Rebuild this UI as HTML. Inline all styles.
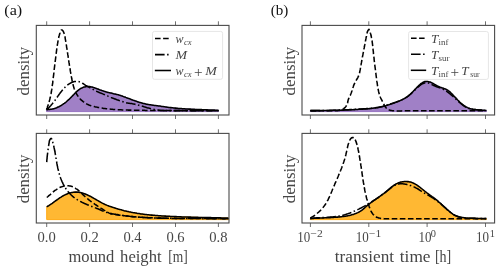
<!DOCTYPE html>
<html><head><meta charset="utf-8"><style>
html,body{margin:0;padding:0;background:#fff;}
body{width:500px;height:271px;overflow:hidden;}
svg{display:block;will-change:transform;}
text{fill:#464646;}
</style></head><body>
<svg width="500" height="271" viewBox="0 0 500 271">
<defs>
<clipPath id="cA1"><rect x="36.3" y="25.4" width="192.7" height="89.6"/></clipPath>
<clipPath id="cA2"><rect x="36.3" y="133.4" width="192.7" height="89.6"/></clipPath>
<clipPath id="cB1"><rect x="302.0" y="25.4" width="192.60000000000002" height="89.6"/></clipPath>
<clipPath id="cB2"><rect x="302.0" y="133.4" width="192.60000000000002" height="89.6"/></clipPath>
</defs>
<rect width="500" height="271" fill="#fff"/>
<path d="M46.5,109.6 47.3,109.6 48.1,109.5 49.0,109.5 49.8,109.4 50.5,109.3 51.3,109.2 52.1,109.1 52.9,108.9 53.7,108.7 54.5,108.5 55.2,108.2 56.0,108.0 56.7,107.7 57.5,107.3 58.2,107.0 58.9,106.7 59.7,106.3 60.4,105.9 61.1,105.5 61.7,105.1 62.4,104.7 63.1,104.2 63.7,103.7 64.4,103.3 65.0,102.8 65.7,102.3 66.3,101.8 66.9,101.2 67.5,100.7 68.1,100.2 68.7,99.6 69.3,99.1 69.9,98.5 70.4,98.0 71.0,97.4 71.6,96.8 72.1,96.2 72.7,95.6 73.2,95.1 73.8,94.5 74.3,93.9 74.9,93.3 75.4,92.7 76.0,92.2 76.6,91.6 77.2,91.1 77.8,90.6 78.4,90.1 79.1,89.6 79.8,89.1 80.4,88.7 81.1,88.3 81.9,88.0 82.6,87.6 83.3,87.3 84.1,87.1 84.9,86.9 85.7,86.7 86.5,86.6 87.3,86.5 88.1,86.5 88.9,86.5 89.7,86.6 90.5,86.7 91.2,86.9 92.0,87.1 92.8,87.3 93.6,87.6 94.3,87.8 95.1,88.1 95.9,88.3 96.6,88.6 97.4,88.9 98.1,89.1 98.9,89.4 99.6,89.7 100.4,90.0 101.2,90.2 101.9,90.5 102.7,90.8 103.4,91.0 104.2,91.3 105.0,91.5 105.7,91.7 106.5,92.0 107.3,92.2 108.1,92.4 108.8,92.6 109.6,92.8 110.4,93.0 111.2,93.1 112.0,93.3 112.8,93.5 113.5,93.7 114.3,93.9 115.1,94.0 115.9,94.2 116.7,94.4 117.4,94.6 118.2,94.8 119.0,95.1 119.8,95.3 120.5,95.5 121.3,95.8 122.1,96.0 122.8,96.3 123.6,96.6 124.3,96.9 125.1,97.1 125.8,97.4 126.6,97.7 127.3,98.0 128.1,98.3 128.8,98.6 129.6,98.8 130.3,99.1 131.1,99.4 131.9,99.7 132.6,100.0 133.4,100.3 134.1,100.5 134.9,100.8 135.6,101.1 136.4,101.3 137.1,101.6 137.9,101.9 138.7,102.1 139.4,102.4 140.2,102.6 141.0,102.8 141.8,103.0 142.5,103.2 143.3,103.5 144.1,103.6 144.9,103.8 145.7,104.0 146.4,104.2 147.2,104.3 148.0,104.5 148.8,104.6 149.6,104.7 150.4,104.8 151.2,105.0 152.0,105.1 152.8,105.2 153.6,105.3 154.4,105.4 155.2,105.5 156.0,105.6 156.8,105.7 157.6,105.8 158.4,105.9 159.2,106.0 160.0,106.1 160.8,106.2 161.6,106.4 162.4,106.5 163.2,106.6 164.0,106.7 164.8,106.8 165.5,106.9 166.3,107.0 167.1,107.2 167.9,107.3 168.7,107.4 169.5,107.5 170.3,107.6 171.1,107.6 171.9,107.7 172.7,107.8 173.5,107.9 174.3,108.0 175.1,108.1 175.9,108.1 176.7,108.2 177.5,108.3 178.3,108.4 179.1,108.4 179.9,108.5 180.7,108.5 181.5,108.6 182.3,108.7 183.1,108.7 183.9,108.8 184.8,108.8 185.6,108.9 186.4,108.9 187.2,109.0 188.0,109.0 188.8,109.1 189.6,109.1 190.4,109.1 191.2,109.2 192.0,109.2 192.8,109.3 193.6,109.3 194.4,109.3 195.2,109.4 196.0,109.4 196.8,109.4 197.6,109.5 198.4,109.5 199.2,109.5 200.0,109.6 200.8,109.6 201.6,109.6 202.4,109.7 203.2,109.7 204.0,109.7 204.8,109.8 205.6,109.8 206.4,109.8 207.2,109.8 208.0,109.9 208.9,109.9 209.7,109.9 210.5,110.0 211.3,110.0 212.1,110.0 212.9,110.1 213.7,110.1 214.5,110.1 215.3,110.2 216.1,110.2 216.9,110.2 217.7,110.3 218.5,110.3 218.5,111.6 46.5,111.6 Z" fill="#a080c6" stroke="#9572c0" stroke-width="1" clip-path="url(#cA1)"/>
<path d="M46.5,109.6 46.8,108.8 47.1,108.1 47.4,107.3 47.6,106.6 47.9,105.8 48.2,105.1 48.4,104.3 48.6,103.5 48.9,102.8 49.1,102.0 49.3,101.2 49.5,100.4 49.7,99.7 49.9,98.9 50.1,98.1 50.3,97.3 50.4,96.5 50.6,95.7 50.8,94.9 50.9,94.2 51.1,93.4 51.2,92.6 51.4,91.8 51.5,91.0 51.6,90.2 51.8,89.4 51.9,88.6 52.0,87.8 52.1,87.0 52.2,86.2 52.3,85.4 52.4,84.6 52.6,83.8 52.7,83.0 52.8,82.2 52.8,81.4 52.9,80.6 53.0,79.8 53.1,79.0 53.2,78.2 53.3,77.4 53.4,76.7 53.5,75.9 53.6,75.1 53.7,74.3 53.8,73.5 53.9,72.7 53.9,71.9 54.0,71.1 54.1,70.3 54.2,69.5 54.3,68.7 54.4,67.9 54.5,67.1 54.6,66.3 54.7,65.5 54.8,64.7 54.9,63.9 55.0,63.1 55.1,62.3 55.2,61.5 55.3,60.7 55.4,59.9 55.5,59.1 55.6,58.3 55.7,57.5 55.8,56.7 55.9,55.9 56.0,55.1 56.1,54.3 56.2,53.5 56.3,52.7 56.4,51.9 56.5,51.1 56.6,50.3 56.7,49.5 56.8,48.7 56.9,47.9 57.1,47.1 57.2,46.3 57.3,45.5 57.4,44.7 57.5,44.0 57.7,43.2 57.8,42.4 57.9,41.6 58.1,40.8 58.2,40.0 58.3,39.2 58.5,38.4 58.7,37.6 58.9,36.8 59.0,36.1 59.3,35.3 59.5,34.5 59.7,33.7 60.0,33.0 60.2,32.2 60.5,31.5 60.9,30.7 61.3,30.1 62.1,30.0 62.7,30.5 63.1,31.2 63.5,31.9 63.8,32.6 64.1,33.4 64.4,34.1 64.6,34.9 64.8,35.7 64.9,36.5 65.1,37.3 65.2,38.1 65.3,38.8 65.4,39.6 65.6,40.4 65.7,41.2 65.8,42.0 66.0,42.8 66.1,43.6 66.2,44.4 66.4,45.2 66.5,46.0 66.6,46.8 66.7,47.6 66.9,48.4 67.0,49.2 67.1,50.0 67.2,50.8 67.4,51.5 67.5,52.3 67.6,53.1 67.7,53.9 67.8,54.7 68.0,55.5 68.1,56.3 68.2,57.1 68.3,57.9 68.4,58.7 68.6,59.5 68.7,60.3 68.8,61.1 68.9,61.9 69.0,62.7 69.2,63.5 69.3,64.3 69.4,65.1 69.5,65.9 69.7,66.6 69.8,67.4 69.9,68.2 70.1,69.0 70.2,69.8 70.3,70.6 70.4,71.4 70.6,72.2 70.7,73.0 70.8,73.8 71.0,74.6 71.1,75.4 71.3,76.2 71.4,76.9 71.6,77.7 71.7,78.5 71.9,79.3 72.0,80.1 72.2,80.9 72.3,81.7 72.5,82.5 72.7,83.3 72.9,84.0 73.1,84.8 73.3,85.6 73.5,86.4 73.7,87.1 74.0,87.9 74.2,88.7 74.5,89.4 74.8,90.2 75.1,90.9 75.4,91.6 75.8,92.4 76.1,93.1 76.5,93.8 76.9,94.5 77.3,95.2 77.8,95.9 78.2,96.5 78.7,97.2 79.2,97.8 79.7,98.4 80.2,99.0 80.8,99.6 81.4,100.2 82.0,100.7 82.6,101.2 83.2,101.7 83.9,102.2 84.5,102.7 85.2,103.1 85.9,103.5 86.6,103.9 87.3,104.3 88.0,104.6 88.8,104.9 89.5,105.2 90.3,105.4 91.1,105.7 91.8,105.9 92.6,106.1 93.4,106.3 94.2,106.5 94.9,106.7 95.7,106.9 96.5,107.1 97.3,107.2 98.1,107.4 98.9,107.6 99.7,107.7 100.5,107.8 101.2,108.0 102.0,108.1 102.8,108.2 103.6,108.4 104.4,108.5 105.2,108.6 106.0,108.7 106.8,108.8 107.6,108.9 108.4,109.0 109.2,109.0 110.0,109.1 110.8,109.2 111.6,109.3 112.4,109.3 113.2,109.4 114.0,109.4 114.8,109.5 115.6,109.6 116.4,109.6 117.2,109.7 118.0,109.7 118.8,109.7 119.6,109.8 120.4,109.8 121.2,109.8 122.0,109.9 122.9,109.9 123.7,109.9 124.5,109.9 125.3,110.0 126.1,110.0 126.9,110.0 127.7,110.0 128.5,110.1 129.3,110.1 130.1,110.1 130.9,110.1 131.7,110.1 132.5,110.1 133.3,110.2 134.1,110.2 134.9,110.2 135.7,110.2 136.5,110.2 137.3,110.2 138.1,110.2 138.9,110.3 139.7,110.3 140.5,110.3 141.3,110.3 142.1,110.3 142.9,110.3 143.7,110.3 144.6,110.3 145.4,110.4 146.2,110.4 147.0,110.4 147.8,110.4 148.6,110.4 149.4,110.4 150.2,110.4 151.0,110.4 151.8,110.4 152.6,110.4 153.4,110.4 154.2,110.4 155.0,110.4 155.8,110.5 156.6,110.5 157.4,110.5 158.2,110.5 159.0,110.5 159.8,110.5 160.6,110.5 161.4,110.5 162.2,110.5 163.0,110.5 163.8,110.5 164.6,110.5 165.5,110.5 166.3,110.5 167.1,110.5 167.9,110.5 168.7,110.5 169.5,110.5 170.3,110.5 171.1,110.5 171.9,110.5 172.7,110.5 173.5,110.5 174.3,110.5 175.1,110.6 175.9,110.6 176.7,110.6 177.5,110.6 178.3,110.6 179.1,110.6 179.9,110.6 180.7,110.6 181.5,110.6 182.3,110.6 183.1,110.6 183.9,110.6 184.7,110.6 185.6,110.6 186.4,110.6 187.2,110.6 188.0,110.6 188.8,110.6 189.6,110.6 190.4,110.6 191.2,110.6 192.0,110.6 192.8,110.6 193.6,110.6 194.4,110.6 195.2,110.6 196.0,110.6 196.8,110.6 197.6,110.6 198.4,110.6 199.2,110.6 200.0,110.6 200.8,110.6 201.6,110.6 202.4,110.6 203.2,110.6 204.0,110.6 204.8,110.6 205.6,110.6 206.5,110.6 207.3,110.6 208.1,110.6 208.9,110.7 209.7,110.7 210.5,110.7 211.3,110.7 212.1,110.7 212.9,110.7 213.7,110.7 214.5,110.7 215.3,110.7 216.1,110.7 216.9,110.7 217.7,110.7 218.5,110.7" fill="none" stroke="#000" stroke-width="1.55" stroke-dasharray="5.6 2.5" clip-path="url(#cA1)"/>
<path d="M46.6,109.6 47.3,109.1 47.9,108.6 48.5,108.1 49.0,107.5 49.6,106.9 50.1,106.3 50.7,105.7 51.2,105.1 51.7,104.5 52.2,103.9 52.7,103.2 53.2,102.6 53.7,102.0 54.2,101.3 54.7,100.7 55.2,100.0 55.6,99.4 56.1,98.7 56.6,98.1 57.0,97.4 57.5,96.8 57.9,96.1 58.4,95.4 58.9,94.8 59.3,94.1 59.8,93.5 60.3,92.8 60.8,92.2 61.3,91.6 61.8,90.9 62.3,90.3 62.8,89.7 63.3,89.1 63.8,88.5 64.4,87.9 65.0,87.3 65.5,86.8 66.1,86.2 66.7,85.7 67.4,85.2 68.0,84.7 68.7,84.2 69.3,83.8 70.0,83.4 70.7,83.0 71.5,82.6 72.2,82.3 73.0,82.0 73.7,81.8 74.5,81.6 75.3,81.5 76.1,81.4 76.9,81.4 77.7,81.4 78.5,81.6 79.3,81.8 80.0,82.0 80.8,82.4 81.5,82.7 82.2,83.1 82.9,83.5 83.6,83.9 84.2,84.4 84.9,84.8 85.6,85.3 86.3,85.7 87.0,86.1 87.7,86.5 88.4,86.9 89.1,87.3 89.8,87.7 90.5,88.1 91.2,88.5 91.9,88.8 92.6,89.2 93.3,89.6 94.0,90.0 94.7,90.4 95.4,90.8 96.1,91.1 96.9,91.4 97.6,91.8 98.3,92.1 99.1,92.4 99.8,92.7 100.6,93.0 101.3,93.3 102.1,93.6 102.8,93.9 103.6,94.2 104.3,94.5 105.1,94.8 105.8,95.1 106.5,95.4 107.3,95.7 108.0,96.1 108.7,96.4 109.5,96.7 110.2,97.0 111.0,97.4 111.7,97.7 112.4,98.0 113.2,98.3 113.9,98.6 114.7,98.9 115.4,99.1 116.2,99.4 117.0,99.7 117.7,99.9 118.5,100.2 119.2,100.5 120.0,100.7 120.7,101.0 121.5,101.3 122.3,101.6 123.0,101.8 123.8,102.1 124.5,102.3 125.3,102.5 126.1,102.7 126.9,102.9 127.7,103.0 128.5,103.2 129.3,103.3 130.1,103.4 130.9,103.5 131.7,103.6 132.5,103.8 133.2,103.9 134.0,104.1 134.8,104.3 135.6,104.4 136.4,104.6 137.2,104.8 137.9,105.0 138.7,105.2 139.5,105.4 140.3,105.6 141.0,105.9 141.8,106.1 142.6,106.3 143.4,106.5 144.1,106.8 144.9,107.0 145.7,107.2 146.4,107.4 147.2,107.7 148.0,107.9 148.8,108.1 149.5,108.3 150.3,108.5 151.1,108.7 151.9,108.9 152.7,109.1 153.5,109.3 154.2,109.4 155.0,109.6 155.8,109.7 156.6,109.9 157.4,110.0 158.2,110.1 159.0,110.2 159.8,110.3 160.6,110.4 161.4,110.4 162.2,110.5 163.0,110.5 163.8,110.6 164.6,110.6 165.4,110.6 166.2,110.6 167.0,110.6 167.8,110.6 168.6,110.6 169.4,110.6 170.2,110.6 171.0,110.6 171.9,110.6 172.7,110.6 173.5,110.6 174.3,110.6 175.1,110.6 175.9,110.6 176.7,110.5 177.5,110.5 178.3,110.5 179.1,110.5 179.9,110.6 180.7,110.6 181.5,110.6 182.3,110.6 183.1,110.6 183.9,110.6 184.7,110.6 185.5,110.6 186.3,110.7 187.1,110.7 187.9,110.7 188.7,110.7 189.5,110.7 190.3,110.7 191.2,110.7 192.0,110.7 192.8,110.7 193.6,110.7 194.4,110.7 195.2,110.7 196.0,110.7 196.8,110.7 197.6,110.7 198.4,110.7 199.2,110.7 200.0,110.7 200.8,110.7 201.6,110.7 202.4,110.7 203.2,110.7 204.0,110.7 204.8,110.7 205.6,110.7 206.4,110.7 207.2,110.7 208.0,110.7 208.8,110.7 209.7,110.7 210.5,110.7 211.3,110.7 212.1,110.7 212.9,110.7 213.7,110.7 214.5,110.7 215.3,110.7 216.1,110.7 216.9,110.7 217.7,110.7 218.5,110.7" fill="none" stroke="#000" stroke-width="1.55" stroke-dasharray="9.6 2.5 1.5 2.5" clip-path="url(#cA1)"/>
<path d="M46.5,109.6 47.3,109.6 48.1,109.5 49.0,109.5 49.8,109.4 50.5,109.3 51.3,109.2 52.1,109.1 52.9,108.9 53.7,108.7 54.5,108.5 55.2,108.2 56.0,108.0 56.7,107.7 57.5,107.3 58.2,107.0 58.9,106.7 59.7,106.3 60.4,105.9 61.1,105.5 61.7,105.1 62.4,104.7 63.1,104.2 63.7,103.7 64.4,103.3 65.0,102.8 65.7,102.3 66.3,101.8 66.9,101.2 67.5,100.7 68.1,100.2 68.7,99.6 69.3,99.1 69.9,98.5 70.4,98.0 71.0,97.4 71.6,96.8 72.1,96.2 72.7,95.6 73.2,95.1 73.8,94.5 74.3,93.9 74.9,93.3 75.4,92.7 76.0,92.2 76.6,91.6 77.2,91.1 77.8,90.6 78.4,90.1 79.1,89.6 79.8,89.1 80.4,88.7 81.1,88.3 81.9,88.0 82.6,87.6 83.3,87.3 84.1,87.1 84.9,86.9 85.7,86.7 86.5,86.6 87.3,86.5 88.1,86.5 88.9,86.5 89.7,86.6 90.5,86.7 91.2,86.9 92.0,87.1 92.8,87.3 93.6,87.6 94.3,87.8 95.1,88.1 95.9,88.3 96.6,88.6 97.4,88.9 98.1,89.1 98.9,89.4 99.6,89.7 100.4,90.0 101.2,90.2 101.9,90.5 102.7,90.8 103.4,91.0 104.2,91.3 105.0,91.5 105.7,91.7 106.5,92.0 107.3,92.2 108.1,92.4 108.8,92.6 109.6,92.8 110.4,93.0 111.2,93.1 112.0,93.3 112.8,93.5 113.5,93.7 114.3,93.9 115.1,94.0 115.9,94.2 116.7,94.4 117.4,94.6 118.2,94.8 119.0,95.1 119.8,95.3 120.5,95.5 121.3,95.8 122.1,96.0 122.8,96.3 123.6,96.6 124.3,96.9 125.1,97.1 125.8,97.4 126.6,97.7 127.3,98.0 128.1,98.3 128.8,98.6 129.6,98.8 130.3,99.1 131.1,99.4 131.9,99.7 132.6,100.0 133.4,100.3 134.1,100.5 134.9,100.8 135.6,101.1 136.4,101.3 137.1,101.6 137.9,101.9 138.7,102.1 139.4,102.4 140.2,102.6 141.0,102.8 141.8,103.0 142.5,103.2 143.3,103.5 144.1,103.6 144.9,103.8 145.7,104.0 146.4,104.2 147.2,104.3 148.0,104.5 148.8,104.6 149.6,104.7 150.4,104.8 151.2,105.0 152.0,105.1 152.8,105.2 153.6,105.3 154.4,105.4 155.2,105.5 156.0,105.6 156.8,105.7 157.6,105.8 158.4,105.9 159.2,106.0 160.0,106.1 160.8,106.2 161.6,106.4 162.4,106.5 163.2,106.6 164.0,106.7 164.8,106.8 165.5,106.9 166.3,107.0 167.1,107.2 167.9,107.3 168.7,107.4 169.5,107.5 170.3,107.6 171.1,107.6 171.9,107.7 172.7,107.8 173.5,107.9 174.3,108.0 175.1,108.1 175.9,108.1 176.7,108.2 177.5,108.3 178.3,108.4 179.1,108.4 179.9,108.5 180.7,108.5 181.5,108.6 182.3,108.7 183.1,108.7 183.9,108.8 184.8,108.8 185.6,108.9 186.4,108.9 187.2,109.0 188.0,109.0 188.8,109.1 189.6,109.1 190.4,109.1 191.2,109.2 192.0,109.2 192.8,109.3 193.6,109.3 194.4,109.3 195.2,109.4 196.0,109.4 196.8,109.4 197.6,109.5 198.4,109.5 199.2,109.5 200.0,109.6 200.8,109.6 201.6,109.6 202.4,109.7 203.2,109.7 204.0,109.7 204.8,109.8 205.6,109.8 206.4,109.8 207.2,109.8 208.0,109.9 208.9,109.9 209.7,109.9 210.5,110.0 211.3,110.0 212.1,110.0 212.9,110.1 213.7,110.1 214.5,110.1 215.3,110.2 216.1,110.2 216.9,110.2 217.7,110.3 218.5,110.3" fill="none" stroke="#000" stroke-width="1.55" clip-path="url(#cA1)"/>
<path d="M46.7,206.8 47.4,206.4 48.1,206.0 48.8,205.6 49.5,205.1 50.2,204.7 50.8,204.2 51.5,203.8 52.2,203.3 52.8,202.8 53.5,202.4 54.1,201.9 54.8,201.4 55.4,200.9 56.1,200.5 56.7,200.0 57.4,199.5 58.0,199.1 58.7,198.6 59.4,198.1 60.0,197.7 60.7,197.3 61.4,196.8 62.1,196.4 62.8,196.0 63.5,195.6 64.2,195.2 64.9,194.9 65.6,194.5 66.4,194.2 67.1,193.9 67.9,193.6 68.6,193.3 69.4,193.1 70.2,192.9 70.9,192.7 71.7,192.5 72.5,192.4 73.3,192.2 74.1,192.2 74.9,192.1 75.7,192.1 76.5,192.1 77.3,192.1 78.1,192.2 78.9,192.3 79.7,192.4 80.5,192.6 81.3,192.8 82.1,193.0 82.9,193.2 83.6,193.4 84.4,193.7 85.2,194.0 85.9,194.3 86.6,194.6 87.4,194.9 88.1,195.3 88.8,195.6 89.6,196.0 90.3,196.3 91.0,196.7 91.7,197.1 92.4,197.5 93.1,197.9 93.8,198.3 94.5,198.7 95.2,199.1 95.9,199.5 96.6,199.9 97.3,200.3 98.0,200.7 98.7,201.1 99.4,201.5 100.1,201.9 100.8,202.3 101.5,202.7 102.2,203.1 102.9,203.4 103.6,203.8 104.4,204.1 105.1,204.5 105.8,204.8 106.6,205.1 107.3,205.4 108.1,205.7 108.8,206.0 109.6,206.3 110.3,206.5 111.1,206.8 111.9,207.1 112.6,207.3 113.4,207.6 114.2,207.8 114.9,208.0 115.7,208.3 116.5,208.5 117.2,208.7 118.0,209.0 118.8,209.2 119.6,209.4 120.3,209.6 121.1,209.8 121.9,210.1 122.7,210.3 123.5,210.5 124.2,210.7 125.0,210.9 125.8,211.0 126.6,211.2 127.4,211.4 128.2,211.6 128.9,211.8 129.7,211.9 130.5,212.1 131.3,212.3 132.1,212.4 132.9,212.6 133.7,212.7 134.5,212.8 135.3,213.0 136.1,213.1 136.9,213.3 137.7,213.4 138.4,213.5 139.2,213.6 140.0,213.7 140.8,213.9 141.6,214.0 142.4,214.1 143.2,214.2 144.0,214.3 144.8,214.4 145.6,214.5 146.4,214.6 147.2,214.7 148.0,214.7 148.8,214.8 149.6,214.9 150.4,215.0 151.2,215.1 152.0,215.1 152.8,215.2 153.6,215.3 154.4,215.3 155.3,215.4 156.1,215.5 156.9,215.5 157.7,215.6 158.5,215.7 159.3,215.7 160.1,215.8 160.9,215.8 161.7,215.9 162.5,215.9 163.3,216.0 164.1,216.0 164.9,216.1 165.7,216.1 166.5,216.2 167.3,216.2 168.1,216.2 168.9,216.3 169.7,216.3 170.5,216.4 171.3,216.4 172.1,216.4 172.9,216.5 173.7,216.5 174.6,216.6 175.4,216.6 176.2,216.6 177.0,216.7 177.8,216.7 178.6,216.7 179.4,216.8 180.2,216.8 181.0,216.8 181.8,216.9 182.6,216.9 183.4,216.9 184.2,216.9 185.0,217.0 185.8,217.0 186.6,217.0 187.4,217.0 188.2,217.1 189.0,217.1 189.8,217.1 190.7,217.1 191.5,217.2 192.3,217.2 193.1,217.2 193.9,217.2 194.7,217.3 195.5,217.3 196.3,217.3 197.1,217.3 197.9,217.3 198.7,217.4 199.5,217.4 200.3,217.4 201.1,217.4 201.9,217.4 202.7,217.5 203.5,217.5 204.3,217.5 205.1,217.5 206.0,217.5 206.8,217.6 207.6,217.6 208.4,217.6 209.2,217.6 210.0,217.6 210.8,217.6 211.6,217.7 212.4,217.7 213.2,217.7 214.0,217.7 214.8,217.7 215.6,217.7 216.4,217.8 217.2,217.8 218.0,217.8 218.8,217.8 219.6,217.8 220.4,217.8 221.3,217.9 222.1,217.9 222.9,217.9 223.7,217.9 224.5,217.9 225.3,217.9 226.1,217.9 226.9,218.0 227.7,218.0 228.5,218.0 228.5,219.6 46.7,219.6 Z" fill="#ffb833" stroke="#ffa914" stroke-width="1" clip-path="url(#cA2)"/>
<path d="M46.8,197.5 47.4,197.0 48.0,196.5 48.6,195.9 49.2,195.4 49.9,194.9 50.5,194.4 51.1,193.8 51.7,193.3 52.3,192.8 52.9,192.2 53.5,191.7 54.1,191.2 54.7,190.7 55.4,190.2 56.0,189.8 56.7,189.3 57.4,188.9 58.1,188.4 58.8,188.1 59.5,187.7 60.2,187.3 61.0,187.0 61.7,186.8 62.5,186.5 63.3,186.3 64.0,186.1 64.8,186.0 65.6,185.9 66.4,185.8 67.2,185.8 68.0,185.8 68.8,185.8 69.6,185.9 70.4,186.1 71.2,186.3 72.0,186.5 72.7,186.8 73.4,187.1 74.2,187.5 74.9,187.9 75.5,188.3 76.2,188.8 76.9,189.2 77.5,189.7 78.1,190.2 78.7,190.7 79.4,191.3 80.0,191.8 80.5,192.3 81.1,192.9 81.7,193.4 82.3,194.0 82.9,194.6 83.5,195.1 84.1,195.7 84.6,196.2 85.2,196.7 85.8,197.3 86.4,197.8 87.1,198.3 87.7,198.8 88.3,199.4 88.9,199.9 89.5,200.4 90.2,200.9 90.8,201.3 91.5,201.8 92.1,202.3 92.8,202.8 93.4,203.2 94.1,203.7 94.7,204.2 95.4,204.6 96.1,205.0 96.8,205.5 97.4,205.9 98.1,206.4 98.8,206.8 99.5,207.2 100.1,207.6 100.8,208.1 101.5,208.5 102.2,208.9 102.9,209.3 103.6,209.8 104.2,210.2 104.9,210.6 105.6,211.0 106.3,211.5 107.0,211.9 107.7,212.3 108.4,212.7 109.1,213.1 109.8,213.4 110.6,213.7 111.3,213.9 112.1,214.1 112.9,214.2 113.7,214.4 114.5,214.5 115.3,214.6 116.1,214.7 116.9,214.8 117.7,214.9 118.5,215.1 119.3,215.2 120.1,215.3 120.9,215.4 121.7,215.5 122.5,215.6 123.3,215.6 124.1,215.7 124.9,215.8 125.7,215.9 126.5,216.0 127.3,216.1 128.1,216.2 128.9,216.2 129.7,216.3 130.5,216.4 131.3,216.5 132.1,216.6 132.9,216.6 133.7,216.7 134.5,216.8 135.3,216.8 136.1,216.9 136.9,217.0 137.7,217.0 138.5,217.1 139.3,217.1 140.1,217.2 140.9,217.2 141.7,217.3 142.5,217.3 143.3,217.4 144.1,217.4 144.9,217.5 145.7,217.5 146.5,217.6 147.3,217.6 148.1,217.7 148.9,217.7 149.7,217.7 150.5,217.8 151.3,217.8 152.1,217.8 152.9,217.9 153.7,217.9 154.5,217.9 155.3,218.0 156.1,218.0 156.9,218.0 157.7,218.1 158.5,218.1 159.4,218.1 160.2,218.1 161.0,218.1 161.8,218.2 162.6,218.2 163.4,218.2 164.2,218.2 165.0,218.2 165.8,218.3 166.6,218.3 167.4,218.3 168.2,218.3 169.0,218.3 169.8,218.3 170.6,218.3 171.4,218.4 172.2,218.4 173.0,218.4 173.8,218.4 174.6,218.4 175.4,218.4 176.2,218.4 177.0,218.4 177.8,218.4 178.6,218.4 179.4,218.4 180.3,218.4 181.1,218.4 181.9,218.5 182.7,218.5 183.5,218.5 184.3,218.5 185.1,218.5 185.9,218.5 186.7,218.5 187.5,218.5 188.3,218.5 189.1,218.5 189.9,218.5 190.7,218.5 191.5,218.5 192.3,218.5 193.1,218.5 193.9,218.5 194.7,218.5 195.5,218.5 196.3,218.5 197.1,218.5 197.9,218.5 198.7,218.5 199.5,218.5 200.4,218.5 201.2,218.5 202.0,218.5 202.8,218.5 203.6,218.5 204.4,218.5 205.2,218.5 206.0,218.5 206.8,218.5 207.6,218.5 208.4,218.5 209.2,218.5 210.0,218.5 210.8,218.5 211.6,218.5 212.4,218.5 213.2,218.5 214.0,218.6 214.8,218.6 215.6,218.6 216.4,218.6 217.2,218.6 218.0,218.6 218.8,218.6 219.6,218.6 220.5,218.6 221.3,218.6 222.1,218.7 222.9,218.7 223.7,218.7 224.5,218.7 225.3,218.7 226.1,218.7 226.9,218.8 227.7,218.8 228.5,218.8" fill="none" stroke="#000" stroke-width="1.55" stroke-dasharray="5.6 2.5" clip-path="url(#cA2)"/>
<path d="M46.7,162.1 46.8,161.3 46.8,160.5 46.9,159.7 47.0,158.9 47.1,158.1 47.1,157.3 47.2,156.5 47.3,155.7 47.4,154.9 47.5,154.1 47.6,153.3 47.7,152.5 47.8,151.7 47.9,150.9 48.0,150.1 48.1,149.3 48.2,148.5 48.3,147.7 48.4,146.9 48.5,146.1 48.7,145.4 48.8,144.6 48.9,143.8 49.1,143.0 49.2,142.2 49.3,141.4 49.5,140.6 49.8,139.9 50.2,139.2 50.8,138.6 51.5,138.6 51.8,139.4 52.1,140.1 52.3,140.9 52.6,141.7 52.8,142.4 53.0,143.2 53.2,144.0 53.4,144.8 53.6,145.5 53.8,146.3 54.0,147.1 54.1,147.9 54.3,148.7 54.5,149.5 54.6,150.3 54.8,151.0 54.9,151.8 55.1,152.6 55.2,153.4 55.3,154.2 55.5,155.0 55.6,155.8 55.7,156.6 55.9,157.4 56.0,158.2 56.1,159.0 56.2,159.8 56.4,160.6 56.5,161.3 56.7,162.1 56.8,162.9 56.9,163.7 57.1,164.5 57.2,165.3 57.4,166.1 57.6,166.9 57.7,167.7 57.9,168.5 58.1,169.2 58.3,170.0 58.4,170.8 58.6,171.6 58.9,172.4 59.1,173.1 59.3,173.9 59.5,174.7 59.8,175.4 60.0,176.2 60.3,177.0 60.5,177.7 60.8,178.5 61.1,179.2 61.4,180.0 61.7,180.7 62.0,181.5 62.3,182.2 62.7,182.9 63.0,183.6 63.4,184.4 63.8,185.1 64.2,185.8 64.6,186.5 65.0,187.2 65.4,187.8 65.8,188.5 66.3,189.2 66.8,189.8 67.2,190.5 67.7,191.1 68.2,191.8 68.7,192.4 69.3,193.0 69.8,193.6 70.4,194.2 70.9,194.7 71.5,195.3 72.1,195.8 72.7,196.4 73.3,196.9 73.9,197.4 74.6,197.9 75.2,198.3 75.9,198.8 76.6,199.2 77.2,199.7 77.9,200.1 78.6,200.5 79.3,200.9 80.0,201.3 80.7,201.6 81.5,202.0 82.2,202.4 82.9,202.7 83.6,203.1 84.4,203.4 85.1,203.7 85.8,204.0 86.6,204.3 87.3,204.7 88.1,205.0 88.8,205.3 89.5,205.6 90.3,205.9 91.0,206.2 91.8,206.5 92.5,206.8 93.3,207.1 94.0,207.3 94.8,207.6 95.5,207.9 96.3,208.2 97.0,208.5 97.8,208.8 98.5,209.1 99.3,209.4 100.0,209.7 100.7,210.1 101.5,210.4 102.2,210.7 103.0,211.0 103.7,211.3 104.5,211.6 105.2,211.8 106.0,212.1 106.7,212.4 107.5,212.6 108.3,212.9 109.0,213.1 109.8,213.3 110.6,213.5 111.4,213.6 112.2,213.8 113.0,213.9 113.8,214.0 114.6,214.2 115.4,214.3 116.1,214.4 116.9,214.5 117.7,214.6 118.5,214.8 119.3,214.9 120.1,215.0 120.9,215.1 121.7,215.2 122.5,215.4 123.3,215.5 124.1,215.6 124.9,215.7 125.7,215.8 126.5,215.9 127.3,216.0 128.1,216.1 128.9,216.2 129.7,216.3 130.5,216.4 131.3,216.5 132.1,216.6 132.9,216.7 133.7,216.7 134.5,216.8 135.3,216.9 136.1,216.9 136.9,217.0 137.7,217.1 138.5,217.1 139.3,217.2 140.1,217.2 140.9,217.3 141.7,217.3 142.5,217.4 143.3,217.4 144.1,217.5 144.9,217.5 145.7,217.6 146.5,217.6 147.3,217.6 148.1,217.7 148.9,217.7 149.7,217.7 150.5,217.8 151.3,217.8 152.1,217.8 152.9,217.9 153.7,217.9 154.5,217.9 155.3,217.9 156.2,218.0 157.0,218.0 157.8,218.0 158.6,218.0 159.4,218.0 160.2,218.1 161.0,218.1 161.8,218.1 162.6,218.1 163.4,218.1 164.2,218.2 165.0,218.2 165.8,218.2 166.6,218.2 167.4,218.2 168.2,218.2 169.0,218.3 169.8,218.3 170.6,218.3 171.4,218.3 172.2,218.3 173.0,218.3 173.8,218.3 174.6,218.3 175.4,218.4 176.2,218.4 177.0,218.4 177.9,218.4 178.7,218.4 179.5,218.4 180.3,218.4 181.1,218.4 181.9,218.4 182.7,218.4 183.5,218.4 184.3,218.4 185.1,218.5 185.9,218.5 186.7,218.5 187.5,218.5 188.3,218.5 189.1,218.5 189.9,218.5 190.7,218.5 191.5,218.5 192.3,218.5 193.1,218.5 193.9,218.5 194.7,218.5 195.5,218.5 196.3,218.5 197.1,218.5 198.0,218.5 198.8,218.5 199.6,218.5 200.4,218.5 201.2,218.5 202.0,218.6 202.8,218.6 203.6,218.6 204.4,218.6 205.2,218.6 206.0,218.6 206.8,218.6 207.6,218.6 208.4,218.6 209.2,218.6 210.0,218.6 210.8,218.6 211.6,218.6 212.4,218.6 213.2,218.6 214.0,218.6 214.8,218.6 215.6,218.6 216.4,218.6 217.2,218.6 218.0,218.6 218.9,218.6 219.7,218.6 220.5,218.6 221.3,218.7 222.1,218.7 222.9,218.7 223.7,218.7 224.5,218.7 225.3,218.7 226.1,218.7 226.9,218.7 227.7,218.7 228.5,218.7" fill="none" stroke="#000" stroke-width="1.55" stroke-dasharray="9.6 2.5 1.5 2.5" clip-path="url(#cA2)"/>
<path d="M46.7,206.8 47.4,206.4 48.1,206.0 48.8,205.6 49.5,205.1 50.2,204.7 50.8,204.2 51.5,203.8 52.2,203.3 52.8,202.8 53.5,202.4 54.1,201.9 54.8,201.4 55.4,200.9 56.1,200.5 56.7,200.0 57.4,199.5 58.0,199.1 58.7,198.6 59.4,198.1 60.0,197.7 60.7,197.3 61.4,196.8 62.1,196.4 62.8,196.0 63.5,195.6 64.2,195.2 64.9,194.9 65.6,194.5 66.4,194.2 67.1,193.9 67.9,193.6 68.6,193.3 69.4,193.1 70.2,192.9 70.9,192.7 71.7,192.5 72.5,192.4 73.3,192.2 74.1,192.2 74.9,192.1 75.7,192.1 76.5,192.1 77.3,192.1 78.1,192.2 78.9,192.3 79.7,192.4 80.5,192.6 81.3,192.8 82.1,193.0 82.9,193.2 83.6,193.4 84.4,193.7 85.2,194.0 85.9,194.3 86.6,194.6 87.4,194.9 88.1,195.3 88.8,195.6 89.6,196.0 90.3,196.3 91.0,196.7 91.7,197.1 92.4,197.5 93.1,197.9 93.8,198.3 94.5,198.7 95.2,199.1 95.9,199.5 96.6,199.9 97.3,200.3 98.0,200.7 98.7,201.1 99.4,201.5 100.1,201.9 100.8,202.3 101.5,202.7 102.2,203.1 102.9,203.4 103.6,203.8 104.4,204.1 105.1,204.5 105.8,204.8 106.6,205.1 107.3,205.4 108.1,205.7 108.8,206.0 109.6,206.3 110.3,206.5 111.1,206.8 111.9,207.1 112.6,207.3 113.4,207.6 114.2,207.8 114.9,208.0 115.7,208.3 116.5,208.5 117.2,208.7 118.0,209.0 118.8,209.2 119.6,209.4 120.3,209.6 121.1,209.8 121.9,210.1 122.7,210.3 123.5,210.5 124.2,210.7 125.0,210.9 125.8,211.0 126.6,211.2 127.4,211.4 128.2,211.6 128.9,211.8 129.7,211.9 130.5,212.1 131.3,212.3 132.1,212.4 132.9,212.6 133.7,212.7 134.5,212.8 135.3,213.0 136.1,213.1 136.9,213.3 137.7,213.4 138.4,213.5 139.2,213.6 140.0,213.7 140.8,213.9 141.6,214.0 142.4,214.1 143.2,214.2 144.0,214.3 144.8,214.4 145.6,214.5 146.4,214.6 147.2,214.7 148.0,214.7 148.8,214.8 149.6,214.9 150.4,215.0 151.2,215.1 152.0,215.1 152.8,215.2 153.6,215.3 154.4,215.3 155.3,215.4 156.1,215.5 156.9,215.5 157.7,215.6 158.5,215.7 159.3,215.7 160.1,215.8 160.9,215.8 161.7,215.9 162.5,215.9 163.3,216.0 164.1,216.0 164.9,216.1 165.7,216.1 166.5,216.2 167.3,216.2 168.1,216.2 168.9,216.3 169.7,216.3 170.5,216.4 171.3,216.4 172.1,216.4 172.9,216.5 173.7,216.5 174.6,216.6 175.4,216.6 176.2,216.6 177.0,216.7 177.8,216.7 178.6,216.7 179.4,216.8 180.2,216.8 181.0,216.8 181.8,216.9 182.6,216.9 183.4,216.9 184.2,216.9 185.0,217.0 185.8,217.0 186.6,217.0 187.4,217.0 188.2,217.1 189.0,217.1 189.8,217.1 190.7,217.1 191.5,217.2 192.3,217.2 193.1,217.2 193.9,217.2 194.7,217.3 195.5,217.3 196.3,217.3 197.1,217.3 197.9,217.3 198.7,217.4 199.5,217.4 200.3,217.4 201.1,217.4 201.9,217.4 202.7,217.5 203.5,217.5 204.3,217.5 205.1,217.5 206.0,217.5 206.8,217.6 207.6,217.6 208.4,217.6 209.2,217.6 210.0,217.6 210.8,217.6 211.6,217.7 212.4,217.7 213.2,217.7 214.0,217.7 214.8,217.7 215.6,217.7 216.4,217.8 217.2,217.8 218.0,217.8 218.8,217.8 219.6,217.8 220.4,217.8 221.3,217.9 222.1,217.9 222.9,217.9 223.7,217.9 224.5,217.9 225.3,217.9 226.1,217.9 226.9,218.0 227.7,218.0 228.5,218.0" fill="none" stroke="#000" stroke-width="1.55" clip-path="url(#cA2)"/>
<path d="M310.4,110.6 311.2,110.6 312.0,110.6 312.8,110.6 313.6,110.6 314.4,110.6 315.2,110.6 316.0,110.6 316.8,110.6 317.6,110.6 318.4,110.6 319.2,110.6 320.0,110.6 320.9,110.5 321.7,110.5 322.5,110.5 323.3,110.5 324.1,110.5 324.9,110.5 325.7,110.5 326.5,110.5 327.3,110.5 328.1,110.5 328.9,110.4 329.7,110.4 330.5,110.4 331.3,110.4 332.1,110.4 332.9,110.4 333.7,110.3 334.5,110.3 335.3,110.3 336.1,110.3 336.9,110.3 337.7,110.2 338.5,110.2 339.3,110.2 340.2,110.2 341.0,110.2 341.8,110.1 342.6,110.1 343.4,110.1 344.2,110.0 345.0,110.0 345.8,110.0 346.6,109.9 347.4,109.9 348.2,109.9 349.0,109.8 349.8,109.8 350.6,109.8 351.4,109.7 352.2,109.7 353.0,109.7 353.8,109.6 354.6,109.6 355.4,109.5 356.2,109.5 357.0,109.4 357.8,109.4 358.6,109.3 359.4,109.3 360.2,109.3 361.0,109.2 361.8,109.1 362.6,109.1 363.5,109.0 364.3,109.0 365.1,108.9 365.9,108.9 366.7,108.8 367.5,108.8 368.3,108.7 369.1,108.6 369.9,108.6 370.7,108.5 371.5,108.4 372.3,108.3 373.1,108.2 373.9,108.1 374.7,108.0 375.5,107.9 376.3,107.8 377.1,107.7 377.8,107.5 378.6,107.4 379.4,107.2 380.2,107.1 381.0,106.9 381.8,106.7 382.6,106.5 383.3,106.3 384.1,106.1 384.9,105.9 385.7,105.7 386.4,105.5 387.2,105.2 388.0,105.0 388.7,104.8 389.5,104.5 390.3,104.3 391.0,104.0 391.8,103.7 392.6,103.5 393.3,103.2 394.1,102.9 394.8,102.7 395.6,102.4 396.3,102.1 397.1,101.8 397.9,101.6 398.6,101.3 399.3,101.0 400.1,100.6 400.8,100.3 401.5,100.0 402.3,99.6 403.0,99.3 403.7,98.9 404.4,98.5 405.1,98.1 405.8,97.7 406.4,97.2 407.1,96.8 407.8,96.3 408.4,95.8 409.0,95.3 409.6,94.8 410.2,94.2 410.8,93.7 411.4,93.1 412.0,92.6 412.6,92.0 413.1,91.4 413.7,90.8 414.2,90.3 414.8,89.7 415.3,89.1 415.9,88.5 416.4,87.9 417.0,87.3 417.5,86.8 418.1,86.2 418.7,85.6 419.3,85.1 419.9,84.6 420.5,84.0 421.1,83.5 421.8,83.1 422.5,82.6 423.2,82.2 423.9,81.9 424.7,81.6 425.4,81.5 426.2,81.4 427.0,81.4 427.8,81.5 428.6,81.7 429.4,81.9 430.2,82.1 430.9,82.4 431.7,82.8 432.4,83.1 433.1,83.5 433.8,83.9 434.5,84.3 435.2,84.7 435.9,85.1 436.6,85.5 437.3,85.9 438.0,86.2 438.7,86.6 439.5,86.9 440.2,87.2 441.0,87.5 441.7,87.8 442.5,88.0 443.3,88.2 444.0,88.5 444.8,88.8 445.5,89.0 446.3,89.4 447.0,89.8 447.6,90.2 448.3,90.7 448.9,91.1 449.6,91.7 450.2,92.2 450.8,92.7 451.3,93.3 451.9,93.9 452.5,94.4 453.0,95.0 453.6,95.6 454.1,96.2 454.7,96.8 455.2,97.4 455.8,97.9 456.3,98.5 456.9,99.1 457.4,99.7 458.0,100.3 458.6,100.8 459.1,101.4 459.7,102.0 460.3,102.5 460.9,103.1 461.5,103.6 462.1,104.1 462.7,104.6 463.4,105.1 464.0,105.6 464.7,106.0 465.4,106.5 466.1,106.9 466.8,107.2 467.5,107.6 468.2,107.9 469.0,108.2 469.7,108.5 470.5,108.7 471.3,108.9 472.1,109.1 472.9,109.3 473.7,109.4 474.5,109.5 475.3,109.6 476.1,109.7 476.9,109.8 477.7,109.8 478.5,109.9 479.3,109.9 480.1,110.0 480.9,110.1 481.7,110.1 482.5,110.2 483.3,110.2 484.1,110.3 484.9,110.4 485.7,110.5 486.5,110.6 486.5,111.6 310.4,111.6 Z" fill="#a080c6" stroke="#9572c0" stroke-width="1" clip-path="url(#cB1)"/>
<path d="M310.4,110.8 311.2,110.8 312.0,110.8 312.8,110.8 313.6,110.8 314.4,110.8 315.2,110.8 316.0,110.8 316.8,110.8 317.6,110.8 318.4,110.8 319.2,110.8 320.0,110.8 320.8,110.8 321.6,110.8 322.4,110.8 323.2,110.8 324.0,110.8 324.8,110.8 325.6,110.8 326.4,110.8 327.2,110.8 328.0,110.8 328.8,110.8 329.6,110.8 330.5,110.8 331.3,110.8 332.1,110.7 332.9,110.7 333.7,110.7 334.5,110.7 335.3,110.7 336.1,110.7 336.9,110.6 337.7,110.6 338.5,110.5 339.3,110.4 340.1,110.2 340.8,110.0 341.6,109.8 342.3,109.5 343.0,109.1 343.7,108.7 344.3,108.2 344.9,107.6 345.5,107.0 346.0,106.4 346.4,105.7 346.8,105.0 347.1,104.3 347.4,103.5 347.6,102.8 347.8,102.0 347.9,101.2 348.1,100.4 348.3,99.6 348.6,98.9 348.9,98.1 349.2,97.4 349.5,96.7 349.9,96.0 350.3,95.3 350.6,94.5 350.9,93.8 351.2,93.0 351.5,92.3 351.7,91.5 352.0,90.8 352.2,90.0 352.5,89.2 352.7,88.5 352.9,87.7 353.2,86.9 353.4,86.2 353.7,85.4 354.0,84.7 354.4,84.0 354.7,83.2 355.1,82.5 355.5,81.8 355.9,81.1 356.2,80.4 356.6,79.7 357.0,79.0 357.4,78.3 357.8,77.6 358.1,76.9 358.5,76.2 358.8,75.4 359.0,74.6 359.3,73.9 359.5,73.1 359.7,72.3 359.8,71.5 360.0,70.8 360.1,70.0 360.3,69.2 360.4,68.4 360.5,67.6 360.7,66.8 360.8,66.0 360.9,65.2 361.1,64.4 361.2,63.6 361.4,62.9 361.5,62.1 361.7,61.3 361.8,60.5 361.9,59.7 362.1,58.9 362.2,58.1 362.4,57.3 362.5,56.5 362.7,55.8 362.8,55.0 363.0,54.2 363.1,53.4 363.3,52.6 363.4,51.8 363.6,51.0 363.7,50.2 363.9,49.4 364.0,48.7 364.2,47.9 364.3,47.1 364.5,46.3 364.6,45.5 364.8,44.7 364.9,43.9 365.1,43.1 365.2,42.4 365.4,41.6 365.5,40.8 365.7,40.0 365.8,39.2 366.0,38.4 366.1,37.6 366.3,36.8 366.5,36.1 366.6,35.3 366.8,34.5 366.9,33.7 367.1,32.9 367.3,32.1 367.6,31.4 367.9,30.6 368.3,30.0 368.9,29.5 369.4,30.2 369.7,30.9 370.0,31.7 370.2,32.4 370.4,33.2 370.7,34.0 370.9,34.7 371.0,35.5 371.2,36.3 371.4,37.1 371.5,37.9 371.7,38.7 371.8,39.5 371.9,40.3 372.1,41.0 372.2,41.8 372.3,42.6 372.4,43.4 372.5,44.2 372.6,45.0 372.7,45.8 372.8,46.6 372.8,47.4 372.9,48.2 373.0,49.0 373.1,49.8 373.2,50.6 373.3,51.4 373.4,52.2 373.4,53.0 373.5,53.8 373.6,54.6 373.7,55.4 373.8,56.2 373.9,57.0 374.0,57.8 374.1,58.6 374.1,59.4 374.2,60.2 374.3,61.0 374.4,61.8 374.5,62.6 374.6,63.4 374.7,64.2 374.8,65.0 374.9,65.8 375.0,66.6 375.1,67.4 375.2,68.1 375.3,68.9 375.4,69.7 375.4,70.5 375.5,71.3 375.6,72.1 375.8,72.9 375.9,73.7 376.0,74.5 376.1,75.3 376.2,76.1 376.3,76.9 376.4,77.7 376.5,78.5 376.6,79.3 376.7,80.1 376.8,80.9 376.9,81.7 377.1,82.5 377.2,83.3 377.3,84.0 377.4,84.8 377.5,85.6 377.7,86.4 377.8,87.2 377.9,88.0 378.1,88.8 378.2,89.6 378.4,90.4 378.5,91.2 378.7,91.9 378.9,92.7 379.1,93.5 379.3,94.3 379.5,95.0 379.8,95.8 380.1,96.6 380.4,97.3 380.7,98.0 381.1,98.8 381.4,99.5 381.8,100.2 382.2,100.9 382.5,101.6 382.9,102.3 383.3,103.0 383.6,103.7 384.0,104.5 384.3,105.2 384.7,105.9 385.1,106.6 385.6,107.2 386.0,107.9 386.6,108.5 387.2,109.0 387.8,109.5 388.5,109.9 389.3,110.1 390.1,110.3 390.9,110.5 391.7,110.6 392.4,110.7 393.2,110.7 394.0,110.8 394.8,110.8 395.7,110.9 396.5,110.9 397.3,110.9 398.1,110.9 398.9,110.9 399.7,110.9 400.5,110.9 401.3,110.9 402.1,110.8 402.9,110.8 403.7,110.8 404.5,110.8 405.3,110.8 406.1,110.8 406.9,110.8 407.7,110.8 408.5,110.8 409.3,110.8 410.1,110.8 410.9,110.8 411.7,110.8 412.5,110.8 413.3,110.8 414.1,110.8 414.9,110.8 415.7,110.8 416.5,110.8 417.3,110.8 418.1,110.8 418.9,110.8 419.7,110.8 420.5,110.8 421.3,110.8 422.1,110.8 422.9,110.8 423.7,110.8 424.5,110.8 425.3,110.8 426.1,110.8 426.9,110.8 427.7,110.8 428.5,110.8 429.3,110.8 430.1,110.8 430.9,110.8 431.7,110.8 432.6,110.8 433.4,110.8 434.2,110.8 435.0,110.8 435.8,110.8 436.6,110.8 437.4,110.8 438.2,110.8 439.0,110.8 439.8,110.8 440.6,110.8 441.4,110.8 442.2,110.8 443.0,110.8 443.8,110.8 444.6,110.8 445.4,110.8 446.2,110.8 447.0,110.8 447.8,110.8 448.6,110.8 449.4,110.8 450.2,110.8 451.0,110.8 451.8,110.8 452.6,110.8 453.4,110.8 454.2,110.8 455.0,110.8 455.8,110.8 456.6,110.8 457.4,110.8 458.2,110.8 459.0,110.8 459.8,110.8 460.6,110.8 461.4,110.8 462.2,110.8 463.0,110.8 463.8,110.8 464.6,110.8 465.4,110.8 466.2,110.8 467.0,110.8 467.8,110.8 468.7,110.8 469.5,110.8 470.3,110.8 471.1,110.8 471.9,110.8 472.7,110.8 473.5,110.8 474.3,110.8 475.1,110.8 475.9,110.8 476.7,110.8 477.5,110.8 478.3,110.8 479.1,110.8 479.9,110.8 480.7,110.8 481.5,110.8 482.3,110.8 483.1,110.8 483.9,110.8 484.7,110.8 485.5,110.8" fill="none" stroke="#000" stroke-width="1.55" stroke-dasharray="5.6 2.5" clip-path="url(#cB1)"/>
<path d="M310.4,110.6 311.2,110.6 312.0,110.6 312.8,110.6 313.6,110.6 314.4,110.6 315.2,110.6 316.0,110.6 316.8,110.5 317.6,110.5 318.4,110.5 319.2,110.5 320.0,110.5 320.8,110.5 321.6,110.5 322.4,110.5 323.3,110.5 324.1,110.5 324.9,110.4 325.7,110.4 326.5,110.4 327.3,110.4 328.1,110.4 328.9,110.4 329.7,110.3 330.5,110.3 331.3,110.3 332.1,110.3 332.9,110.3 333.7,110.2 334.5,110.2 335.3,110.2 336.1,110.2 336.9,110.1 337.7,110.1 338.5,110.1 339.3,110.1 340.1,110.0 340.9,110.0 341.7,110.0 342.5,109.9 343.3,109.9 344.1,109.9 344.9,109.8 345.7,109.8 346.5,109.8 347.3,109.7 348.1,109.7 348.9,109.7 349.7,109.6 350.6,109.6 351.4,109.5 352.2,109.5 353.0,109.5 353.8,109.4 354.6,109.4 355.4,109.3 356.2,109.3 357.0,109.2 357.8,109.2 358.6,109.1 359.4,109.1 360.2,109.0 361.0,109.0 361.8,108.9 362.6,108.9 363.4,108.8 364.2,108.8 365.0,108.7 365.8,108.7 366.6,108.6 367.4,108.6 368.2,108.5 369.0,108.4 369.8,108.4 370.6,108.3 371.4,108.2 372.2,108.1 373.0,108.0 373.8,107.9 374.6,107.8 375.4,107.7 376.2,107.6 377.0,107.5 377.8,107.4 378.6,107.2 379.3,107.1 380.1,106.9 380.9,106.7 381.7,106.6 382.5,106.4 383.3,106.2 384.0,106.0 384.8,105.7 385.6,105.5 386.4,105.3 387.1,105.1 387.9,104.8 388.7,104.6 389.4,104.3 390.2,104.1 390.9,103.8 391.7,103.6 392.5,103.3 393.2,103.1 394.0,102.8 394.7,102.5 395.5,102.3 396.3,102.0 397.0,101.7 397.8,101.4 398.5,101.2 399.3,100.9 400.0,100.6 400.8,100.3 401.5,99.9 402.2,99.6 402.9,99.2 403.7,98.9 404.4,98.5 405.1,98.1 405.8,97.7 406.4,97.3 407.1,96.8 407.7,96.3 408.4,95.9 409.0,95.4 409.6,94.8 410.3,94.3 410.9,93.8 411.5,93.3 412.0,92.7 412.6,92.2 413.2,91.6 413.8,91.1 414.4,90.5 414.9,89.9 415.5,89.4 416.1,88.8 416.7,88.3 417.3,87.7 417.9,87.2 418.5,86.7 419.1,86.1 419.7,85.6 420.4,85.2 421.0,84.7 421.7,84.2 422.4,83.8 423.1,83.5 423.8,83.2 424.6,82.9 425.4,82.8 426.2,82.7 427.0,82.8 427.8,82.9 428.6,83.1 429.3,83.4 430.1,83.7 430.8,84.0 431.5,84.3 432.2,84.7 433.0,85.1 433.7,85.5 434.4,85.8 435.1,86.1 435.9,86.4 436.6,86.7 437.4,87.0 438.2,87.2 438.9,87.5 439.7,87.7 440.4,88.0 441.2,88.3 441.9,88.7 442.6,89.0 443.3,89.4 444.0,89.7 444.7,90.1 445.4,90.6 446.1,91.0 446.8,91.4 447.4,91.9 448.1,92.4 448.7,92.8 449.4,93.3 450.0,93.8 450.6,94.4 451.2,94.9 451.8,95.4 452.4,95.9 453.0,96.5 453.6,97.0 454.2,97.6 454.8,98.1 455.4,98.7 456.0,99.2 456.5,99.8 457.1,100.3 457.7,100.9 458.3,101.4 458.9,102.0 459.5,102.5 460.1,103.0 460.7,103.5 461.3,104.0 462.0,104.5 462.6,105.0 463.3,105.5 463.9,105.9 464.6,106.4 465.3,106.8 466.0,107.2 466.7,107.5 467.5,107.8 468.2,108.2 469.0,108.4 469.7,108.7 470.5,108.9 471.3,109.1 472.1,109.2 472.9,109.4 473.7,109.5 474.5,109.6 475.3,109.6 476.1,109.7 476.9,109.8 477.7,109.8 478.5,109.9 479.3,109.9 480.1,110.0 480.9,110.0 481.7,110.1 482.5,110.1 483.3,110.2 484.1,110.3 484.9,110.4 485.7,110.5 486.5,110.6" fill="none" stroke="#000" stroke-width="1.55" stroke-dasharray="9.6 2.5 1.5 2.5" clip-path="url(#cB1)"/>
<path d="M310.4,110.6 311.2,110.6 312.0,110.6 312.8,110.6 313.6,110.6 314.4,110.6 315.2,110.6 316.0,110.6 316.8,110.6 317.6,110.6 318.4,110.6 319.2,110.6 320.0,110.6 320.9,110.5 321.7,110.5 322.5,110.5 323.3,110.5 324.1,110.5 324.9,110.5 325.7,110.5 326.5,110.5 327.3,110.5 328.1,110.5 328.9,110.4 329.7,110.4 330.5,110.4 331.3,110.4 332.1,110.4 332.9,110.4 333.7,110.3 334.5,110.3 335.3,110.3 336.1,110.3 336.9,110.3 337.7,110.2 338.5,110.2 339.3,110.2 340.2,110.2 341.0,110.2 341.8,110.1 342.6,110.1 343.4,110.1 344.2,110.0 345.0,110.0 345.8,110.0 346.6,109.9 347.4,109.9 348.2,109.9 349.0,109.8 349.8,109.8 350.6,109.8 351.4,109.7 352.2,109.7 353.0,109.7 353.8,109.6 354.6,109.6 355.4,109.5 356.2,109.5 357.0,109.4 357.8,109.4 358.6,109.3 359.4,109.3 360.2,109.3 361.0,109.2 361.8,109.1 362.6,109.1 363.5,109.0 364.3,109.0 365.1,108.9 365.9,108.9 366.7,108.8 367.5,108.8 368.3,108.7 369.1,108.6 369.9,108.6 370.7,108.5 371.5,108.4 372.3,108.3 373.1,108.2 373.9,108.1 374.7,108.0 375.5,107.9 376.3,107.8 377.1,107.7 377.8,107.5 378.6,107.4 379.4,107.2 380.2,107.1 381.0,106.9 381.8,106.7 382.6,106.5 383.3,106.3 384.1,106.1 384.9,105.9 385.7,105.7 386.4,105.5 387.2,105.2 388.0,105.0 388.7,104.8 389.5,104.5 390.3,104.3 391.0,104.0 391.8,103.7 392.6,103.5 393.3,103.2 394.1,102.9 394.8,102.7 395.6,102.4 396.3,102.1 397.1,101.8 397.9,101.6 398.6,101.3 399.3,101.0 400.1,100.6 400.8,100.3 401.5,100.0 402.3,99.6 403.0,99.3 403.7,98.9 404.4,98.5 405.1,98.1 405.8,97.7 406.4,97.2 407.1,96.8 407.8,96.3 408.4,95.8 409.0,95.3 409.6,94.8 410.2,94.2 410.8,93.7 411.4,93.1 412.0,92.6 412.6,92.0 413.1,91.4 413.7,90.8 414.2,90.3 414.8,89.7 415.3,89.1 415.9,88.5 416.4,87.9 417.0,87.3 417.5,86.8 418.1,86.2 418.7,85.6 419.3,85.1 419.9,84.6 420.5,84.0 421.1,83.5 421.8,83.1 422.5,82.6 423.2,82.2 423.9,81.9 424.7,81.6 425.4,81.5 426.2,81.4 427.0,81.4 427.8,81.5 428.6,81.7 429.4,81.9 430.2,82.1 430.9,82.4 431.7,82.8 432.4,83.1 433.1,83.5 433.8,83.9 434.5,84.3 435.2,84.7 435.9,85.1 436.6,85.5 437.3,85.9 438.0,86.2 438.7,86.6 439.5,86.9 440.2,87.2 441.0,87.5 441.7,87.8 442.5,88.0 443.3,88.2 444.0,88.5 444.8,88.8 445.5,89.0 446.3,89.4 447.0,89.8 447.6,90.2 448.3,90.7 448.9,91.1 449.6,91.7 450.2,92.2 450.8,92.7 451.3,93.3 451.9,93.9 452.5,94.4 453.0,95.0 453.6,95.6 454.1,96.2 454.7,96.8 455.2,97.4 455.8,97.9 456.3,98.5 456.9,99.1 457.4,99.7 458.0,100.3 458.6,100.8 459.1,101.4 459.7,102.0 460.3,102.5 460.9,103.1 461.5,103.6 462.1,104.1 462.7,104.6 463.4,105.1 464.0,105.6 464.7,106.0 465.4,106.5 466.1,106.9 466.8,107.2 467.5,107.6 468.2,107.9 469.0,108.2 469.7,108.5 470.5,108.7 471.3,108.9 472.1,109.1 472.9,109.3 473.7,109.4 474.5,109.5 475.3,109.6 476.1,109.7 476.9,109.8 477.7,109.8 478.5,109.9 479.3,109.9 480.1,110.0 480.9,110.1 481.7,110.1 482.5,110.2 483.3,110.2 484.1,110.3 484.9,110.4 485.7,110.5 486.5,110.6" fill="none" stroke="#000" stroke-width="1.55" clip-path="url(#cB1)"/>
<path d="M310.3,218.6 311.1,218.6 311.9,218.5 312.7,218.4 313.5,218.4 314.3,218.3 315.1,218.3 315.9,218.2 316.7,218.2 317.5,218.2 318.3,218.1 319.1,218.1 319.9,218.0 320.7,218.0 321.5,218.0 322.3,217.9 323.1,217.9 323.9,217.9 324.7,217.8 325.5,217.8 326.3,217.8 327.1,217.7 327.9,217.7 328.7,217.6 329.5,217.6 330.3,217.6 331.1,217.5 332.0,217.5 332.8,217.4 333.6,217.4 334.4,217.3 335.2,217.3 336.0,217.2 336.8,217.1 337.6,217.1 338.4,217.0 339.2,216.9 340.0,216.9 340.8,216.8 341.6,216.7 342.4,216.6 343.2,216.5 344.0,216.4 344.7,216.3 345.5,216.2 346.3,216.0 347.1,215.9 347.9,215.7 348.7,215.6 349.5,215.4 350.3,215.2 351.1,215.0 351.8,214.8 352.6,214.6 353.4,214.4 354.1,214.1 354.9,213.8 355.6,213.6 356.4,213.3 357.1,212.9 357.8,212.6 358.6,212.2 359.3,211.8 360.0,211.4 360.6,211.0 361.3,210.6 362.0,210.1 362.6,209.6 363.2,209.1 363.8,208.6 364.4,208.1 365.0,207.5 365.6,207.0 366.2,206.4 366.8,205.9 367.4,205.4 368.0,204.9 368.7,204.3 369.3,203.8 369.9,203.3 370.6,202.9 371.2,202.4 371.9,201.9 372.5,201.5 373.2,201.0 373.8,200.5 374.5,200.1 375.2,199.6 375.8,199.2 376.5,198.7 377.1,198.3 377.8,197.8 378.5,197.3 379.1,196.9 379.8,196.4 380.4,195.9 381.1,195.5 381.7,195.0 382.4,194.5 383.0,194.0 383.7,193.6 384.3,193.1 384.9,192.6 385.6,192.1 386.2,191.6 386.8,191.0 387.4,190.5 388.0,190.0 388.6,189.5 389.3,189.0 389.9,188.4 390.5,187.9 391.1,187.4 391.7,186.9 392.4,186.4 393.0,186.0 393.7,185.5 394.3,185.0 395.0,184.6 395.7,184.2 396.4,183.8 397.1,183.5 397.9,183.1 398.6,182.8 399.4,182.6 400.1,182.3 400.9,182.1 401.7,181.9 402.5,181.8 403.3,181.7 404.1,181.6 404.9,181.5 405.7,181.5 406.5,181.5 407.3,181.6 408.1,181.6 408.9,181.7 409.7,181.9 410.5,182.1 411.2,182.3 412.0,182.6 412.7,182.8 413.5,183.2 414.2,183.5 414.9,183.9 415.6,184.3 416.3,184.7 417.0,185.1 417.6,185.6 418.3,186.0 419.0,186.5 419.6,187.0 420.2,187.5 420.9,188.0 421.5,188.5 422.1,189.0 422.7,189.5 423.3,190.0 424.0,190.5 424.6,191.0 425.2,191.5 425.8,192.0 426.5,192.5 427.1,193.0 427.7,193.5 428.4,194.0 429.0,194.4 429.7,194.9 430.4,195.4 431.0,195.8 431.7,196.3 432.3,196.8 433.0,197.2 433.6,197.7 434.3,198.2 434.9,198.7 435.5,199.2 436.2,199.7 436.8,200.2 437.4,200.7 438.0,201.2 438.6,201.7 439.2,202.3 439.9,202.8 440.5,203.3 441.1,203.9 441.6,204.4 442.2,204.9 442.8,205.5 443.4,206.0 444.0,206.6 444.6,207.1 445.2,207.6 445.8,208.2 446.4,208.7 447.0,209.3 447.6,209.8 448.2,210.3 448.8,210.9 449.4,211.4 450.0,211.9 450.6,212.4 451.3,212.9 451.9,213.4 452.6,213.9 453.2,214.3 453.9,214.7 454.6,215.1 455.3,215.5 456.1,215.8 456.8,216.1 457.6,216.4 458.3,216.6 459.1,216.9 459.9,217.1 460.7,217.2 461.4,217.4 462.2,217.5 463.0,217.6 463.8,217.8 464.6,217.8 465.4,217.9 466.2,218.0 467.0,218.1 467.8,218.1 468.6,218.2 469.4,218.2 470.2,218.2 471.0,218.3 471.8,218.3 472.6,218.3 473.5,218.3 474.3,218.3 475.1,218.3 475.9,218.4 476.7,218.4 477.5,218.4 478.3,218.4 479.1,218.4 479.9,218.4 480.7,218.4 481.5,218.4 482.3,218.4 483.1,218.5 483.9,218.5 484.7,218.5 485.5,218.6 486.3,218.6 486.3,219.6 310.3,219.6 Z" fill="#ffb833" stroke="#ffa914" stroke-width="1" clip-path="url(#cB2)"/>
<path d="M310.3,218.0 311.0,217.6 311.7,217.2 312.4,216.8 313.1,216.4 313.8,216.0 314.4,215.5 315.1,215.0 315.7,214.6 316.4,214.1 317.0,213.6 317.6,213.0 318.2,212.5 318.8,212.0 319.4,211.4 320.0,210.9 320.6,210.3 321.1,209.7 321.6,209.1 322.2,208.5 322.7,207.9 323.2,207.3 323.7,206.6 324.2,206.0 324.7,205.3 325.1,204.7 325.6,204.0 326.0,203.3 326.4,202.6 326.8,201.9 327.2,201.2 327.6,200.5 328.0,199.8 328.3,199.1 328.7,198.4 329.0,197.7 329.4,196.9 329.7,196.2 330.0,195.5 330.3,194.7 330.7,194.0 331.0,193.2 331.3,192.5 331.6,191.8 331.9,191.0 332.2,190.3 332.5,189.5 332.8,188.8 333.1,188.0 333.4,187.3 333.8,186.6 334.1,185.8 334.4,185.1 334.7,184.3 335.0,183.6 335.3,182.9 335.7,182.1 336.0,181.4 336.3,180.6 336.6,179.9 336.9,179.2 337.3,178.4 337.6,177.7 337.9,177.0 338.2,176.2 338.5,175.5 338.8,174.7 339.2,174.0 339.5,173.2 339.8,172.5 340.1,171.8 340.4,171.0 340.7,170.3 341.0,169.5 341.3,168.8 341.6,168.0 341.9,167.3 342.1,166.5 342.4,165.8 342.7,165.0 343.0,164.3 343.2,163.5 343.5,162.7 343.7,162.0 344.0,161.2 344.2,160.4 344.5,159.7 344.7,158.9 344.9,158.1 345.2,157.4 345.4,156.6 345.6,155.8 345.8,155.0 346.0,154.2 346.1,153.5 346.3,152.7 346.5,151.9 346.7,151.1 346.9,150.3 347.0,149.5 347.2,148.7 347.4,148.0 347.5,147.2 347.7,146.4 347.9,145.6 348.1,144.8 348.3,144.1 348.6,143.3 348.8,142.5 349.1,141.8 349.4,141.0 349.7,140.3 350.1,139.6 350.5,138.9 351.0,138.3 351.7,137.8 352.4,137.6 353.2,137.6 354.0,137.9 354.5,138.5 354.9,139.2 355.3,139.9 355.6,140.6 355.9,141.4 356.2,142.1 356.4,142.9 356.7,143.6 356.9,144.4 357.1,145.2 357.4,146.0 357.6,146.7 357.7,147.5 357.9,148.3 358.1,149.1 358.2,149.9 358.4,150.7 358.6,151.5 358.7,152.3 358.8,153.0 359.0,153.8 359.1,154.6 359.3,155.4 359.4,156.2 359.5,157.0 359.7,157.8 359.8,158.6 359.9,159.4 360.1,160.2 360.2,161.0 360.3,161.8 360.4,162.6 360.6,163.4 360.7,164.2 360.8,164.9 360.9,165.7 361.1,166.5 361.2,167.3 361.3,168.1 361.4,168.9 361.5,169.7 361.6,170.5 361.8,171.3 361.9,172.1 362.0,172.9 362.1,173.7 362.2,174.5 362.3,175.3 362.5,176.1 362.6,176.9 362.7,177.7 362.8,178.5 362.9,179.3 363.0,180.1 363.2,180.9 363.3,181.7 363.4,182.4 363.6,183.2 363.7,184.0 363.8,184.8 364.0,185.6 364.1,186.4 364.2,187.2 364.4,188.0 364.5,188.8 364.7,189.6 364.8,190.4 365.0,191.2 365.2,191.9 365.3,192.7 365.5,193.5 365.7,194.3 365.9,195.1 366.1,195.9 366.2,196.6 366.4,197.4 366.6,198.2 366.8,199.0 367.1,199.8 367.3,200.5 367.5,201.3 367.7,202.1 368.0,202.8 368.2,203.6 368.4,204.4 368.7,205.1 369.0,205.9 369.2,206.7 369.5,207.4 369.8,208.2 370.1,208.9 370.4,209.7 370.7,210.4 371.0,211.1 371.4,211.8 371.8,212.5 372.3,213.2 372.7,213.9 373.2,214.5 373.8,215.1 374.3,215.7 375.0,216.2 375.6,216.6 376.3,217.0 377.1,217.4 377.8,217.6 378.6,217.9 379.4,218.1 380.1,218.2 380.9,218.4 381.7,218.5 382.5,218.6 383.3,218.6 384.1,218.7 384.9,218.7 385.7,218.7 386.5,218.7 387.4,218.7 388.2,218.8 389.0,218.8 389.8,218.7 390.6,218.7 391.4,218.7 392.2,218.7 393.0,218.7 393.8,218.7 394.6,218.7 395.4,218.7 396.2,218.7 397.0,218.7 397.8,218.7 398.6,218.7 399.4,218.7 400.2,218.7 401.0,218.7 401.8,218.7 402.6,218.7 403.4,218.7 404.2,218.7 405.0,218.7 405.9,218.7 406.7,218.7 407.5,218.7 408.3,218.7 409.1,218.7 409.9,218.7 410.7,218.7 411.5,218.7 412.3,218.7 413.1,218.7 413.9,218.7 414.7,218.7 415.5,218.7 416.3,218.7 417.1,218.7 417.9,218.7 418.7,218.7 419.5,218.7 420.3,218.7 421.1,218.7 421.9,218.7 422.7,218.7 423.5,218.7 424.4,218.7 425.2,218.7 426.0,218.7 426.8,218.7 427.6,218.7 428.4,218.7 429.2,218.7 430.0,218.7 430.8,218.7 431.6,218.7 432.4,218.7 433.2,218.7 434.0,218.7 434.8,218.7 435.6,218.7 436.4,218.7 437.2,218.7 438.0,218.7 438.8,218.7 439.6,218.7 440.4,218.7 441.2,218.7 442.0,218.7 442.9,218.7 443.7,218.7 444.5,218.7 445.3,218.7 446.1,218.7 446.9,218.7 447.7,218.7 448.5,218.7 449.3,218.7 450.1,218.7 450.9,218.7 451.7,218.7 452.5,218.7 453.3,218.7 454.1,218.7 454.9,218.7 455.7,218.7 456.5,218.7 457.3,218.7 458.1,218.7 458.9,218.7 459.7,218.7 460.5,218.7 461.4,218.7 462.2,218.7 463.0,218.7 463.8,218.7 464.6,218.7 465.4,218.7 466.2,218.7 467.0,218.7 467.8,218.7 468.6,218.7 469.4,218.7 470.2,218.7 471.0,218.7 471.8,218.7 472.6,218.7 473.4,218.7 474.2,218.7 475.0,218.7 475.8,218.7 476.6,218.7 477.4,218.7 478.2,218.7 479.0,218.7 479.9,218.7 480.7,218.7 481.5,218.7 482.3,218.7 483.1,218.7 483.9,218.7 484.7,218.7 485.5,218.7" fill="none" stroke="#000" stroke-width="1.55" stroke-dasharray="5.6 2.5" clip-path="url(#cB2)"/>
<path d="M310.3,218.4 311.1,218.3 311.9,218.3 312.7,218.2 313.5,218.1 314.3,218.0 315.1,218.0 315.9,217.9 316.7,217.8 317.5,217.8 318.3,217.8 319.1,217.7 319.9,217.7 320.7,217.6 321.5,217.6 322.4,217.6 323.2,217.5 324.0,217.5 324.8,217.4 325.6,217.4 326.4,217.4 327.2,217.3 328.0,217.3 328.8,217.2 329.6,217.2 330.4,217.1 331.2,217.0 332.0,217.0 332.8,216.9 333.6,216.8 334.4,216.7 335.2,216.6 336.0,216.5 336.8,216.4 337.6,216.3 338.4,216.2 339.2,216.0 340.0,215.9 340.8,215.7 341.5,215.6 342.3,215.4 343.1,215.2 343.9,215.0 344.7,214.8 345.4,214.5 346.2,214.3 347.0,214.0 347.7,213.8 348.5,213.5 349.2,213.2 350.0,213.0 350.7,212.7 351.5,212.4 352.2,212.1 353.0,211.8 353.7,211.4 354.5,211.1 355.2,210.8 355.9,210.4 356.7,210.1 357.4,209.8 358.1,209.4 358.8,209.1 359.5,208.7 360.3,208.3 361.0,208.0 361.7,207.6 362.4,207.2 363.1,206.8 363.8,206.4 364.5,206.1 365.2,205.7 365.9,205.3 366.6,204.9 367.3,204.5 368.0,204.1 368.7,203.7 369.4,203.2 370.1,202.8 370.8,202.4 371.5,202.0 372.1,201.5 372.8,201.1 373.5,200.7 374.2,200.2 374.8,199.8 375.5,199.4 376.2,198.9 376.8,198.4 377.5,198.0 378.2,197.5 378.8,197.1 379.5,196.6 380.1,196.1 380.8,195.7 381.4,195.2 382.1,194.7 382.7,194.2 383.4,193.7 384.0,193.3 384.7,192.8 385.3,192.3 385.9,191.8 386.6,191.3 387.2,190.8 387.8,190.3 388.5,189.8 389.1,189.3 389.7,188.8 390.4,188.3 391.0,187.8 391.7,187.4 392.3,186.9 393.0,186.5 393.7,186.0 394.4,185.6 395.1,185.3 395.8,184.9 396.6,184.6 397.3,184.3 398.1,184.1 398.9,184.0 399.7,183.8 400.5,183.8 401.3,183.8 402.1,183.8 402.9,183.8 403.7,183.9 404.5,184.0 405.3,184.2 406.1,184.3 406.9,184.5 407.6,184.7 408.4,184.9 409.2,185.1 410.0,185.4 410.7,185.6 411.5,185.9 412.2,186.2 413.0,186.5 413.7,186.8 414.5,187.1 415.2,187.5 415.9,187.9 416.6,188.2 417.3,188.6 418.0,189.0 418.7,189.5 419.4,189.9 420.0,190.3 420.7,190.8 421.4,191.2 422.1,191.6 422.7,192.1 423.4,192.5 424.1,192.9 424.8,193.4 425.5,193.8 426.2,194.1 426.9,194.5 427.6,194.9 428.3,195.3 429.0,195.7 429.7,196.1 430.4,196.5 431.1,196.9 431.8,197.3 432.5,197.8 433.2,198.2 433.8,198.6 434.5,199.1 435.1,199.6 435.8,200.0 436.4,200.5 437.1,201.0 437.7,201.5 438.4,202.0 439.0,202.5 439.6,203.0 440.2,203.5 440.9,204.0 441.5,204.5 442.1,205.1 442.7,205.6 443.3,206.1 443.9,206.7 444.5,207.2 445.1,207.8 445.7,208.3 446.2,208.8 446.8,209.4 447.4,209.9 448.0,210.5 448.6,211.0 449.2,211.5 449.9,212.0 450.5,212.5 451.1,213.0 451.8,213.5 452.5,214.0 453.1,214.4 453.8,214.8 454.5,215.2 455.3,215.5 456.0,215.9 456.7,216.1 457.5,216.4 458.3,216.7 459.0,216.9 459.8,217.1 460.6,217.2 461.4,217.4 462.2,217.5 463.0,217.6 463.8,217.7 464.6,217.8 465.4,217.9 466.2,218.0 467.0,218.1 467.8,218.1 468.6,218.2 469.4,218.2 470.2,218.2 471.0,218.3 471.8,218.3 472.6,218.3 473.4,218.3 474.2,218.3 475.0,218.3 475.8,218.4 476.7,218.4 477.5,218.4 478.3,218.4 479.1,218.4 479.9,218.4 480.7,218.4 481.5,218.4 482.3,218.4 483.1,218.5 483.9,218.5 484.7,218.5 485.5,218.6 486.3,218.6" fill="none" stroke="#000" stroke-width="1.55" stroke-dasharray="9.6 2.5 1.5 2.5" clip-path="url(#cB2)"/>
<path d="M310.3,218.6 311.1,218.6 311.9,218.5 312.7,218.4 313.5,218.4 314.3,218.3 315.1,218.3 315.9,218.2 316.7,218.2 317.5,218.2 318.3,218.1 319.1,218.1 319.9,218.0 320.7,218.0 321.5,218.0 322.3,217.9 323.1,217.9 323.9,217.9 324.7,217.8 325.5,217.8 326.3,217.8 327.1,217.7 327.9,217.7 328.7,217.6 329.5,217.6 330.3,217.6 331.1,217.5 332.0,217.5 332.8,217.4 333.6,217.4 334.4,217.3 335.2,217.3 336.0,217.2 336.8,217.1 337.6,217.1 338.4,217.0 339.2,216.9 340.0,216.9 340.8,216.8 341.6,216.7 342.4,216.6 343.2,216.5 344.0,216.4 344.7,216.3 345.5,216.2 346.3,216.0 347.1,215.9 347.9,215.7 348.7,215.6 349.5,215.4 350.3,215.2 351.1,215.0 351.8,214.8 352.6,214.6 353.4,214.4 354.1,214.1 354.9,213.8 355.6,213.6 356.4,213.3 357.1,212.9 357.8,212.6 358.6,212.2 359.3,211.8 360.0,211.4 360.6,211.0 361.3,210.6 362.0,210.1 362.6,209.6 363.2,209.1 363.8,208.6 364.4,208.1 365.0,207.5 365.6,207.0 366.2,206.4 366.8,205.9 367.4,205.4 368.0,204.9 368.7,204.3 369.3,203.8 369.9,203.3 370.6,202.9 371.2,202.4 371.9,201.9 372.5,201.5 373.2,201.0 373.8,200.5 374.5,200.1 375.2,199.6 375.8,199.2 376.5,198.7 377.1,198.3 377.8,197.8 378.5,197.3 379.1,196.9 379.8,196.4 380.4,195.9 381.1,195.5 381.7,195.0 382.4,194.5 383.0,194.0 383.7,193.6 384.3,193.1 384.9,192.6 385.6,192.1 386.2,191.6 386.8,191.0 387.4,190.5 388.0,190.0 388.6,189.5 389.3,189.0 389.9,188.4 390.5,187.9 391.1,187.4 391.7,186.9 392.4,186.4 393.0,186.0 393.7,185.5 394.3,185.0 395.0,184.6 395.7,184.2 396.4,183.8 397.1,183.5 397.9,183.1 398.6,182.8 399.4,182.6 400.1,182.3 400.9,182.1 401.7,181.9 402.5,181.8 403.3,181.7 404.1,181.6 404.9,181.5 405.7,181.5 406.5,181.5 407.3,181.6 408.1,181.6 408.9,181.7 409.7,181.9 410.5,182.1 411.2,182.3 412.0,182.6 412.7,182.8 413.5,183.2 414.2,183.5 414.9,183.9 415.6,184.3 416.3,184.7 417.0,185.1 417.6,185.6 418.3,186.0 419.0,186.5 419.6,187.0 420.2,187.5 420.9,188.0 421.5,188.5 422.1,189.0 422.7,189.5 423.3,190.0 424.0,190.5 424.6,191.0 425.2,191.5 425.8,192.0 426.5,192.5 427.1,193.0 427.7,193.5 428.4,194.0 429.0,194.4 429.7,194.9 430.4,195.4 431.0,195.8 431.7,196.3 432.3,196.8 433.0,197.2 433.6,197.7 434.3,198.2 434.9,198.7 435.5,199.2 436.2,199.7 436.8,200.2 437.4,200.7 438.0,201.2 438.6,201.7 439.2,202.3 439.9,202.8 440.5,203.3 441.1,203.9 441.6,204.4 442.2,204.9 442.8,205.5 443.4,206.0 444.0,206.6 444.6,207.1 445.2,207.6 445.8,208.2 446.4,208.7 447.0,209.3 447.6,209.8 448.2,210.3 448.8,210.9 449.4,211.4 450.0,211.9 450.6,212.4 451.3,212.9 451.9,213.4 452.6,213.9 453.2,214.3 453.9,214.7 454.6,215.1 455.3,215.5 456.1,215.8 456.8,216.1 457.6,216.4 458.3,216.6 459.1,216.9 459.9,217.1 460.7,217.2 461.4,217.4 462.2,217.5 463.0,217.6 463.8,217.8 464.6,217.8 465.4,217.9 466.2,218.0 467.0,218.1 467.8,218.1 468.6,218.2 469.4,218.2 470.2,218.2 471.0,218.3 471.8,218.3 472.6,218.3 473.5,218.3 474.3,218.3 475.1,218.3 475.9,218.4 476.7,218.4 477.5,218.4 478.3,218.4 479.1,218.4 479.9,218.4 480.7,218.4 481.5,218.4 482.3,218.4 483.1,218.5 483.9,218.5 484.7,218.5 485.5,218.6 486.3,218.6" fill="none" stroke="#000" stroke-width="1.55" clip-path="url(#cB2)"/>
<line x1="46.7" y1="21.299999999999997" x2="46.7" y2="25.4" stroke="#555" stroke-width="0.85"/>
<line x1="46.7" y1="115.0" x2="46.7" y2="119.0" stroke="#555" stroke-width="0.85"/>
<line x1="89.6" y1="21.299999999999997" x2="89.6" y2="25.4" stroke="#555" stroke-width="0.85"/>
<line x1="89.6" y1="115.0" x2="89.6" y2="119.0" stroke="#555" stroke-width="0.85"/>
<line x1="132.5" y1="21.299999999999997" x2="132.5" y2="25.4" stroke="#555" stroke-width="0.85"/>
<line x1="132.5" y1="115.0" x2="132.5" y2="119.0" stroke="#555" stroke-width="0.85"/>
<line x1="175.5" y1="21.299999999999997" x2="175.5" y2="25.4" stroke="#555" stroke-width="0.85"/>
<line x1="175.5" y1="115.0" x2="175.5" y2="119.0" stroke="#555" stroke-width="0.85"/>
<line x1="218.4" y1="21.299999999999997" x2="218.4" y2="25.4" stroke="#555" stroke-width="0.85"/>
<line x1="218.4" y1="115.0" x2="218.4" y2="119.0" stroke="#555" stroke-width="0.85"/>
<rect x="36.3" y="25.4" width="192.7" height="89.6" fill="none" stroke="#4a4a4a" stroke-width="1.1"/>
<line x1="46.7" y1="129.3" x2="46.7" y2="133.4" stroke="#555" stroke-width="0.85"/>
<line x1="46.7" y1="223.0" x2="46.7" y2="227.0" stroke="#555" stroke-width="0.85"/>
<line x1="89.6" y1="129.3" x2="89.6" y2="133.4" stroke="#555" stroke-width="0.85"/>
<line x1="89.6" y1="223.0" x2="89.6" y2="227.0" stroke="#555" stroke-width="0.85"/>
<line x1="132.5" y1="129.3" x2="132.5" y2="133.4" stroke="#555" stroke-width="0.85"/>
<line x1="132.5" y1="223.0" x2="132.5" y2="227.0" stroke="#555" stroke-width="0.85"/>
<line x1="175.5" y1="129.3" x2="175.5" y2="133.4" stroke="#555" stroke-width="0.85"/>
<line x1="175.5" y1="223.0" x2="175.5" y2="227.0" stroke="#555" stroke-width="0.85"/>
<line x1="218.4" y1="129.3" x2="218.4" y2="133.4" stroke="#555" stroke-width="0.85"/>
<line x1="218.4" y1="223.0" x2="218.4" y2="227.0" stroke="#555" stroke-width="0.85"/>
<rect x="36.3" y="133.4" width="192.7" height="89.6" fill="none" stroke="#4a4a4a" stroke-width="1.1"/>
<line x1="310.4" y1="21.299999999999997" x2="310.4" y2="25.4" stroke="#555" stroke-width="0.85"/>
<line x1="310.4" y1="115.0" x2="310.4" y2="119.0" stroke="#555" stroke-width="0.85"/>
<line x1="368.8" y1="21.299999999999997" x2="368.8" y2="25.4" stroke="#555" stroke-width="0.85"/>
<line x1="368.8" y1="115.0" x2="368.8" y2="119.0" stroke="#555" stroke-width="0.85"/>
<line x1="427.1" y1="21.299999999999997" x2="427.1" y2="25.4" stroke="#555" stroke-width="0.85"/>
<line x1="427.1" y1="115.0" x2="427.1" y2="119.0" stroke="#555" stroke-width="0.85"/>
<line x1="485.5" y1="21.299999999999997" x2="485.5" y2="25.4" stroke="#555" stroke-width="0.85"/>
<line x1="485.5" y1="115.0" x2="485.5" y2="119.0" stroke="#555" stroke-width="0.85"/>
<rect x="302.0" y="25.4" width="192.60000000000002" height="89.6" fill="none" stroke="#4a4a4a" stroke-width="1.1"/>
<line x1="310.4" y1="129.3" x2="310.4" y2="133.4" stroke="#555" stroke-width="0.85"/>
<line x1="310.4" y1="223.0" x2="310.4" y2="227.0" stroke="#555" stroke-width="0.85"/>
<line x1="368.8" y1="129.3" x2="368.8" y2="133.4" stroke="#555" stroke-width="0.85"/>
<line x1="368.8" y1="223.0" x2="368.8" y2="227.0" stroke="#555" stroke-width="0.85"/>
<line x1="427.1" y1="129.3" x2="427.1" y2="133.4" stroke="#555" stroke-width="0.85"/>
<line x1="427.1" y1="223.0" x2="427.1" y2="227.0" stroke="#555" stroke-width="0.85"/>
<line x1="485.5" y1="129.3" x2="485.5" y2="133.4" stroke="#555" stroke-width="0.85"/>
<line x1="485.5" y1="223.0" x2="485.5" y2="227.0" stroke="#555" stroke-width="0.85"/>
<rect x="302.0" y="133.4" width="192.60000000000002" height="89.6" fill="none" stroke="#4a4a4a" stroke-width="1.1"/>
<text x="4.3" y="15.2" font-family="Liberation Serif, serif" font-size="15.2" textLength="17.9" lengthAdjust="spacingAndGlyphs" style="fill:#111">(a)</text>
<text x="270.8" y="15.2" font-family="Liberation Serif, serif" font-size="15.2" textLength="17.6" lengthAdjust="spacingAndGlyphs" style="fill:#111">(b)</text>
<text transform="translate(28.6,71) rotate(-90)" x="-24.4" y="0" font-family="Liberation Serif, serif" font-size="16.5" textLength="48.7" lengthAdjust="spacingAndGlyphs">density</text>
<text transform="translate(28.6,178.9) rotate(-90)" x="-24.4" y="0" font-family="Liberation Serif, serif" font-size="16.5" textLength="48.7" lengthAdjust="spacingAndGlyphs">density</text>
<text transform="translate(295.0,71) rotate(-90)" x="-24.4" y="0" font-family="Liberation Serif, serif" font-size="16.5" textLength="48.7" lengthAdjust="spacingAndGlyphs">density</text>
<text transform="translate(295.0,178.9) rotate(-90)" x="-24.4" y="0" font-family="Liberation Serif, serif" font-size="16.5" textLength="48.7" lengthAdjust="spacingAndGlyphs">density</text>
<text x="46.7" y="242.2" font-family="Liberation Serif, serif" font-size="14.6" text-anchor="middle">0.0</text>
<text x="89.6" y="242.2" font-family="Liberation Serif, serif" font-size="14.6" text-anchor="middle">0.2</text>
<text x="132.5" y="242.2" font-family="Liberation Serif, serif" font-size="14.6" text-anchor="middle">0.4</text>
<text x="175.5" y="242.2" font-family="Liberation Serif, serif" font-size="14.6" text-anchor="middle">0.6</text>
<text x="218.4" y="242.2" font-family="Liberation Serif, serif" font-size="14.6" text-anchor="middle">0.8</text>
<text x="68.39999999999999" y="261.9" font-family="Liberation Serif, serif" font-size="17.3" textLength="45.9" lengthAdjust="spacingAndGlyphs">mound</text>
<text x="120.1" y="261.9" font-family="Liberation Serif, serif" font-size="17.3" textLength="41.5" lengthAdjust="spacingAndGlyphs">height</text>
<text x="168.29999999999998" y="261.9" font-family="Liberation Serif, serif" font-size="17.3" textLength="19.5" lengthAdjust="spacingAndGlyphs">[m]</text>
<text x="334.8" y="261.9" font-family="Liberation Serif, serif" font-size="17.3" textLength="59.3" lengthAdjust="spacingAndGlyphs">transient</text>
<text x="399.8" y="261.9" font-family="Liberation Serif, serif" font-size="17.3" textLength="30.7" lengthAdjust="spacingAndGlyphs">time</text>
<text x="434.90000000000003" y="261.9" font-family="Liberation Serif, serif" font-size="17.3" textLength="16.4" lengthAdjust="spacingAndGlyphs">[h]</text>
<text x="297.2" y="242.2" font-family="Liberation Serif, serif" font-size="14.6" textLength="13.0" lengthAdjust="spacingAndGlyphs">10</text>
<text x="310.4" y="237.2" font-family="Liberation Serif, serif" font-size="10.4" textLength="12.3" lengthAdjust="spacingAndGlyphs">−2</text>
<text x="355.7" y="242.2" font-family="Liberation Serif, serif" font-size="14.6" textLength="13.0" lengthAdjust="spacingAndGlyphs">10</text>
<text x="369.09999999999997" y="237.2" font-family="Liberation Serif, serif" font-size="10.4" textLength="12.3" lengthAdjust="spacingAndGlyphs">−1</text>
<text x="418.59999999999997" y="242.2" font-family="Liberation Serif, serif" font-size="14.6" textLength="13.0" lengthAdjust="spacingAndGlyphs">10</text>
<text x="430.7" y="237.2" font-family="Liberation Serif, serif" font-size="10.4">0</text>
<text x="476.0" y="242.2" font-family="Liberation Serif, serif" font-size="14.6" textLength="13.0" lengthAdjust="spacingAndGlyphs">10</text>
<text x="489.7" y="237.2" font-family="Liberation Serif, serif" font-size="10.4">1</text>
<rect x="152.5" y="31.4" width="70.1" height="47.9" rx="2" ry="2" fill="#fff" fill-opacity="0.8" stroke="#e6e6e6" stroke-width="1"/>
<line x1="155" y1="38.5" x2="170.6" y2="38.5" stroke="#000" stroke-width="1.55" stroke-dasharray="5.6 2.5"/>
<text x="175.6" y="42.9" font-family="Liberation Serif, serif" font-style="italic" font-size="12">w</text><text x="184.0" y="44.7" font-family="Liberation Serif, serif" font-style="italic" font-size="8.6">cx</text>
<line x1="155" y1="54.6" x2="170.6" y2="54.6" stroke="#000" stroke-width="1.55" stroke-dasharray="9.6 2.5 1.5 2.5"/>
<text x="175.6" y="58.7" font-family="Liberation Serif, serif" font-style="italic" font-size="12.8" textLength="11.6" lengthAdjust="spacingAndGlyphs">M</text>
<line x1="155.6" y1="70.5" x2="170.2" y2="70.5" stroke="#000" stroke-width="1.55" stroke-linecap="square"/>
<text x="175.6" y="74.9" font-family="Liberation Serif, serif" font-style="italic" font-size="12">w</text><text x="184.0" y="76.6" font-family="Liberation Serif, serif" font-style="italic" font-size="8.6">cx</text><text x="193.9" y="76.6" font-family="Liberation Serif, serif" font-size="15.5" textLength="8.6" lengthAdjust="spacingAndGlyphs">+</text><text x="205.2" y="74.9" font-family="Liberation Serif, serif" font-style="italic" font-size="12.8" textLength="11.6" lengthAdjust="spacingAndGlyphs">M</text>
<rect x="408.6" y="31.5" width="79.79999999999995" height="47.900000000000006" rx="2" ry="2" fill="#fff" fill-opacity="0.8" stroke="#e6e6e6" stroke-width="1"/>
<line x1="411" y1="38.3" x2="424.6" y2="38.3" stroke="#000" stroke-width="1.55" stroke-dasharray="5.6 2.5"/>
<text x="430.9" y="43.0" font-family="Liberation Serif, serif" font-style="italic" font-size="13.2">T</text><text x="438.6" y="44.9" font-family="Liberation Serif, serif" font-size="8.8">inf</text>
<line x1="411" y1="54.2" x2="424.6" y2="54.2" stroke="#000" stroke-width="1.55" stroke-dasharray="9.6 2.5 1.5 2.5"/>
<text x="431.0" y="58.9" font-family="Liberation Serif, serif" font-style="italic" font-size="13.2">T</text><text x="438.6" y="60.7" font-family="Liberation Serif, serif" font-size="8.8">sur</text>
<line x1="411.6" y1="70.3" x2="425.40000000000003" y2="70.3" stroke="#000" stroke-width="1.55" stroke-linecap="square"/>
<text x="430.9" y="74.9" font-family="Liberation Serif, serif" font-style="italic" font-size="13.2">T</text><text x="438.6" y="76.7" font-family="Liberation Serif, serif" font-size="8.8">inf</text><text x="450.4" y="76.6" font-family="Liberation Serif, serif" font-size="15.5" textLength="8.6" lengthAdjust="spacingAndGlyphs">+</text><text x="461.3" y="74.9" font-family="Liberation Serif, serif" font-style="italic" font-size="13.2">T</text><text x="470.2" y="76.7" font-family="Liberation Serif, serif" font-size="8.8" textLength="9.4" lengthAdjust="spacingAndGlyphs">sur</text>
</svg>
</body></html>
